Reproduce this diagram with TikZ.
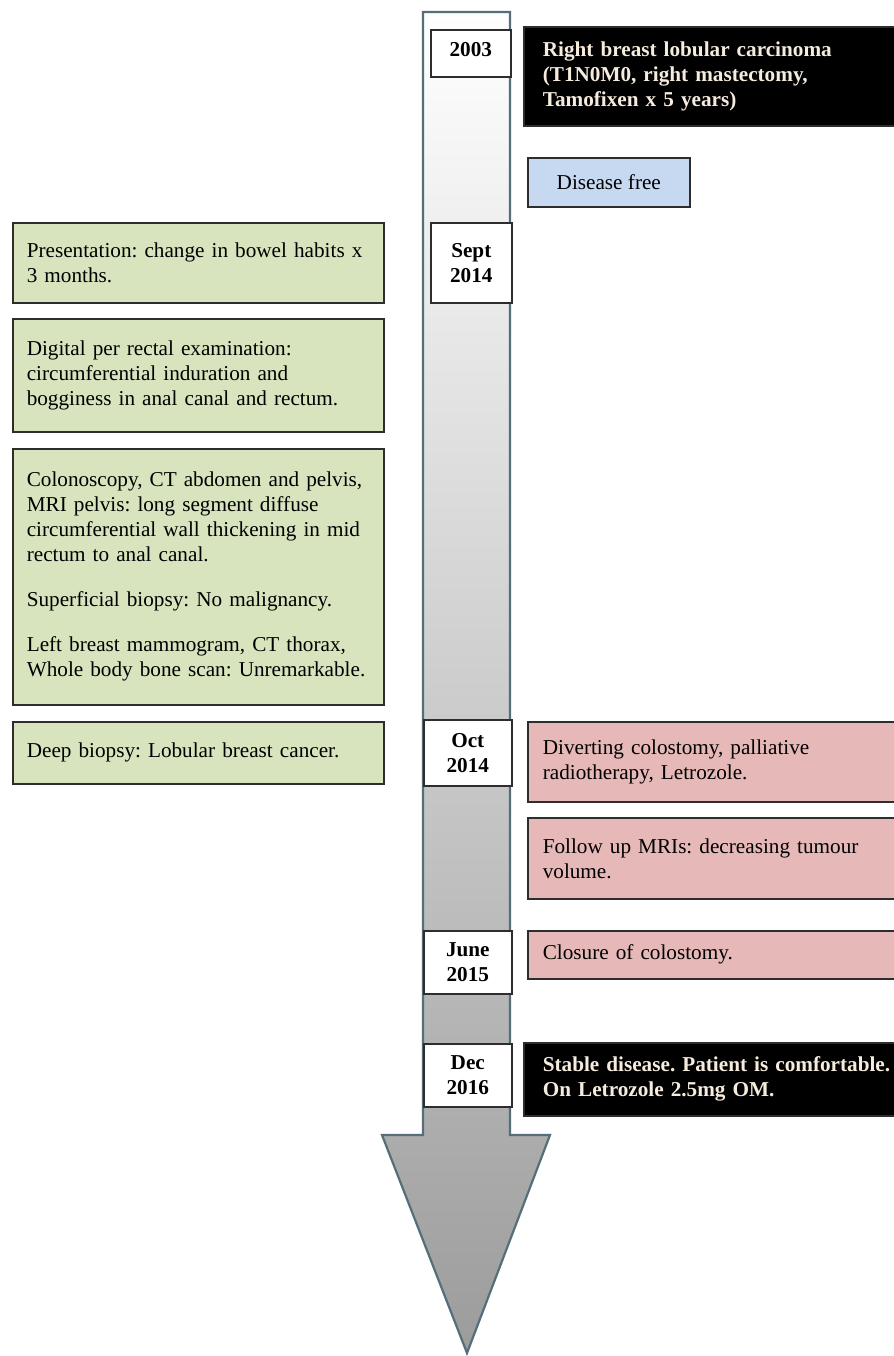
\documentclass[tikz,border=0pt]{standalone}
\usepackage{fontspec}
\setmainfont{Liberation Serif}
\frenchspacing
\definecolor{boxline}{RGB}{45,45,45}
\definecolor{arrowline}{RGB}{86,110,122}
\definecolor{arrowgray}{RGB}{156,156,156}
\definecolor{findgreen}{RGB}{215,228,189}
\definecolor{treatpink}{RGB}{230,185,184}
\definecolor{freeblue}{RGB}{198,217,241}
\definecolor{keytext}{RGB}{245,236,222}
\newcommand\evfont{\fontsize{10.6}{12.5}\selectfont}
\begin{document}
\begin{tikzpicture}[x=0.5pt,y=-0.5pt,
	box/.style={draw=boxline,line width=0.8pt,anchor=north west,align=left,inner ysep=2pt,font=\evfont},
	findbox/.style={box,fill=findgreen,inner xsep=7pt,text width=171.5pt},
	treatbox/.style={box,fill=treatpink,inner xsep=7.5pt,text width=185pt},
	keybox/.style={box,fill=black,text=keytext,inner xsep=9.5pt,text width=185pt,font=\evfont\bfseries},
	datebox/.style={box,fill=white,align=center,inner xsep=2pt,font=\evfont\bfseries}]
	\clip (0,0) rectangle (894,1356);
	\fill[white] (0,0) rectangle (894,1356);
	% timeline arrow
	\path[draw=arrowline,line width=1.1pt,top color=white,bottom color=arrowgray]
		(423,12) -- (510,12) -- (510,1135) -- (550,1135) -- (467,1353) -- (382,1135) -- (423,1135) -- cycle;
	% dates
	\node[datebox,text width=36pt,minimum height=23.5pt,text depth=4pt] (d2003) at (430,29) {2003};
	\node[datebox,text width=36.5pt,minimum height=40pt] (dsep14) at (430,222) {Sept\\2014};
	\node[datebox,text width=40pt,minimum height=33pt] (doct14) at (423,719) {Oct\\2014};
	\node[datebox,text width=40pt,minimum height=31.5pt] (djun15) at (423,930) {June\\2015};
	\node[datebox,text width=40pt,minimum height=31.5pt] (ddec16) at (423,1043) {Dec\\2016};
	% right side
	\node[keybox,minimum height=49.5pt] (primary) at (523,26) {Right breast lobular carcinoma\\(T1N0M0, right mastectomy,\\Tamofixen x 5 years)};
	\node[box,fill=freeblue,inner xsep=7.5pt,minimum width=81pt,minimum height=24.5pt] (free) at (527,157) {Disease free};
	\node[treatbox,minimum height=40pt] (divert) at (527,721) {Diverting colostomy, palliative\\radiotherapy, Letrozole.};
	\node[treatbox,minimum height=40.5pt] (follow) at (527,817) {Follow up MRIs: decreasing tumour\\volume.};
	\node[treatbox,minimum height=24pt] (closure) at (527,930) {Closure of colostomy.};
	\node[keybox,minimum height=36.5pt] (stable) at (523,1042) {Stable disease. Patient is comfortable.\\On Letrozole 2.5mg OM.};
	% left side
	\node[findbox,minimum height=40pt] (present) at (12,222) {Presentation: change in bowel habits x\\3 months.};
	\node[findbox,minimum height=56.5pt] (dre) at (12,318) {Digital per rectal examination:\\circumferential induration and\\bogginess in anal canal and rectum.};
	\node[findbox,minimum height=128pt] (imaging) at (12,448) {Colonoscopy, CT abdomen and pelvis,\\MRI pelvis: long segment diffuse\\circumferential wall thickening in mid\\rectum to anal canal.\\[10pt]Superficial biopsy: No malignancy.\\[10pt]Left breast mammogram, CT thorax,\\Whole body bone scan: Unremarkable.};
	\node[findbox,minimum height=31pt] (deep) at (12,721) {Deep biopsy: Lobular breast cancer.};
\end{tikzpicture}
\end{document}
